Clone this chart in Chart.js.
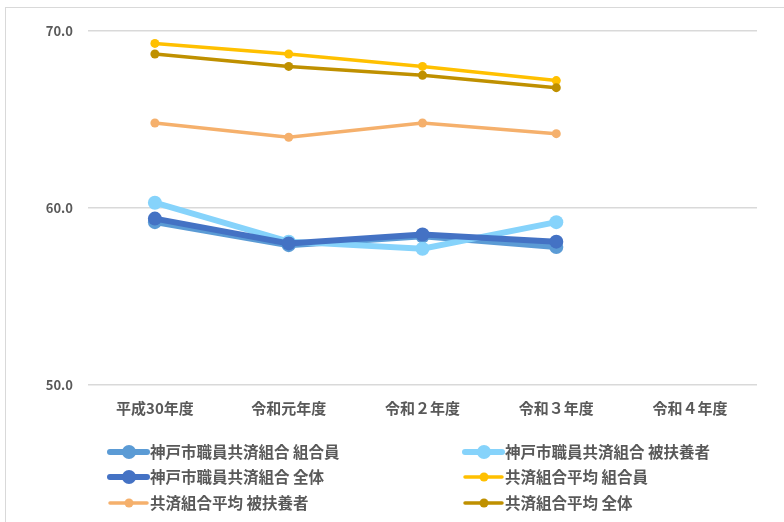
<!DOCTYPE html>
<html lang="ja">
<head>
<meta charset="utf-8">
<title>年度別推移</title>
<script src="https://cdn.jsdelivr.net/npm/chart.js@4.4.1/dist/chart.umd.min.js"></script>
<style>
  html, body { margin: 0; padding: 0; background: #fff; overflow: hidden; }
  #wrap { position: relative; width: 784px; height: 522px; }
  #frame {
    position: absolute; left: 5px; top: 7px; width: 800px; height: 600px;
    border: 1px solid #d9d9d9; box-sizing: border-box;
  }
  #chart { position: absolute; left: 0; top: 0; }
</style>
</head>
<body>
<div id="wrap">
  <div id="frame"></div>
  <canvas id="chart" width="784" height="522"></canvas>
</div>
<script>
const years = ['平成30年度', '令和元年度', '令和２年度', '令和３年度', '令和４年度'];
const yTicks = [50, 60, 70];

// 神戸市職員共済組合
const kobeMember = [59.2, 57.9, 58.4, 57.8, null];
const kobeDependent = [60.3, 58.1, 57.7, 59.2, null];
const kobeTotal = [59.4, 58.0, 58.5, 58.1, null];
// 共済組合平均
const avgMember = [69.3, 68.7, 68.0, 67.2, null];
const avgDependent = [64.8, 64.0, 64.8, 64.2, null];
const avgTotal = [68.7, 68.0, 67.5, 66.8, null];

const seriesNames = [
  '神戸市職員共済組合 組合員',
  '神戸市職員共済組合 被扶養者',
  '神戸市職員共済組合 全体',
  '共済組合平均 組合員',
  '共済組合平均 被扶養者',
  '共済組合平均 全体'
];
const seriesData = [kobeMember, kobeDependent, kobeTotal, avgMember, avgDependent, avgTotal];
const seriesColors = ['#5b9bd5', '#86d3fb', '#4472c4', '#ffc000', '#f5b06c', '#bf9000'];
const thick = [true, true, true, false, false, false];

const textColor = '#595959';
const jpFont = '"Noto Sans CJK JP", "Noto Sans", sans-serif';

const datasets = seriesData.map((d, i) => ({
  label: seriesNames[i],
  data: d,
  borderColor: seriesColors[i],
  backgroundColor: seriesColors[i],
  borderWidth: thick[i] ? 6 : 3.5,
  pointRadius: thick[i] ? 7 : 4.5,
  pointHoverRadius: thick[i] ? 7 : 4.5,
  pointBorderWidth: 0,
  tension: 0,
  // later series sit on top, as in the spreadsheet
  order: seriesData.length - i
}));

// two-column legend under the plot, line sample with marker
const gridLegend = {
  id: 'gridLegend',
  afterDraw(chart) {
    const ctx = chart.ctx;
    const cols = [110, 465];
    const rows = [452, 477, 503];
    ctx.save();
    ctx.font = 'bold 15.5px ' + jpFont;
    ctx.textBaseline = 'middle';
    ctx.textAlign = 'left';
    chart.data.datasets.forEach((ds, i) => {
      const x = cols[i % 2];
      const y = rows[Math.floor(i / 2)];
      ctx.strokeStyle = ds.borderColor;
      ctx.lineWidth = ds.borderWidth;
      ctx.lineCap = 'round';
      ctx.beginPath();
      ctx.moveTo(x, y);
      ctx.lineTo(x + 37, y);
      ctx.stroke();
      ctx.fillStyle = ds.backgroundColor;
      ctx.beginPath();
      ctx.arc(x + 19, y, ds.pointRadius, 0, Math.PI * 2);
      ctx.fill();
      ctx.fillStyle = textColor;
      ctx.fillText(ds.label, x + 40, y);
    });
    ctx.restore();
  }
};

new Chart(document.getElementById('chart'), {
  type: 'line',
  data: { labels: years, datasets: datasets },
  options: {
    responsive: false,
    animation: false,
    events: [],
    layout: { padding: { top: 31, right: 27, left: 0, bottom: 0 } },
    plugins: { legend: { display: false }, tooltip: { enabled: false } },
    scales: {
      x: {
        offset: true,
        grid: { display: false, drawTicks: false },
        border: { display: false },
        ticks: {
          color: textColor,
          font: { family: jpFont, size: 15, weight: 'bold' },
          padding: 14,
          maxRotation: 0
        },
        afterFit(scale) { scale.height = 137; }
      },
      y: {
        min: 50,
        max: 70,
        afterBuildTicks(scale) { scale.ticks = yTicks.map(v => ({ value: v })); },
        grid: { color: '#d9d9d9', lineWidth: 1.5, drawTicks: false },
        border: { display: false },
        ticks: {
          color: textColor,
          font: { family: jpFont, size: 13, weight: 'bold' },
          padding: 15,
          callback: v => v.toFixed(1)
        },
        afterFit(scale) { scale.width = 88; }
      }
    }
  },
  plugins: [gridLegend]
});
</script>
</body>
</html>
